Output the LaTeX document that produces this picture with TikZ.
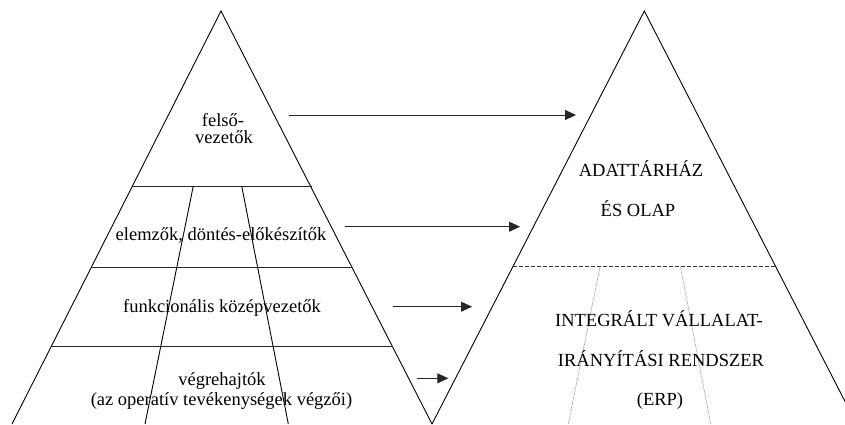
\documentclass[tikz,border=0pt]{standalone}
\usepackage{fontspec}
\setmainfont{Liberation Serif}
\usetikzlibrary{arrows.meta}
\begin{document}
\begin{tikzpicture}[x=1pt,y=-1pt,
  edge/.style={line width=0.9pt,black},
  rowline/.style={line width=0.9pt,black!85},
  sepline/.style={line width=0.8pt,dash pattern=on 4pt off 2pt,black!80},
  faint/.style={line width=0.6pt,black!40,dash pattern=on 1.5pt off 0.8pt},
  flow/.style={line width=0.9pt,black!85,-{Triangle[length=11pt,width=10pt]}},
  lbl/.style={inner sep=0pt,anchor=base,font=\fontsize{18.5}{20}\selectfont}]
\useasboundingbox (0,0) rectangle (845,424);
\clip (0,0) rectangle (845,424);

% left pyramid: organisational levels
\coordinate (lApex) at (221,11);
\coordinate (lBL) at (12,424);
\coordinate (lBR) at (432,424);
\draw[edge] (lBL) -- (lApex) -- (lBR);
\draw[rowline] (132.4,186) -- (312,186);
\draw[rowline] (91.4,267) -- (351.8,267);
\draw[rowline] (51.1,346.7) -- (392.5,346.7);
\draw[edge] (193.3,186) -- (145,424);
\draw[edge] (241.7,186) -- (288.3,424);

% right pyramid: information systems
\coordinate (rApex) at (644.3,11);
\coordinate (rBL) at (432,424);
\coordinate (rBR) at (856.6,424);
\draw[edge] (rBL) -- (rApex) -- (rBR);
\draw[sepline] (513,266.5) -- (775.6,266.5);
\draw[faint] (600,267) -- (568.3,424);
\draw[faint] (680.5,267) -- (710.7,424);

% labels, left
\node[lbl] (felso) at (223,126) {felső-};
\node[lbl] (vezetok) at (224,143.3) {vezetők};
\node[lbl] (elemzok) at (221,240.7) {elemzők, döntés-előkészítők};
\node[lbl] (funk) at (222,312.7) {funkcionális középvezetők};
\node[lbl] (vegre) at (222,385) {végrehajtók};
\node[lbl] (operativ) at (221.5,405) {(az operatív tevékenységek végzői)};

% labels, right
\node[lbl] (adat) at (641,176) {ADATTÁRHÁZ};
\node[lbl] (olap) at (638,216) {ÉS OLAP};
\node[lbl] (integ) at (659,326) {INTEGRÁLT VÁLLALAT-};
\node[lbl] (irany) at (661,366.7) {IRÁNYÍTÁSI RENDSZER};
\node[lbl] (erp) at (660,405) {(ERP)};

% arrows between the levels
\coordinate (a1s) at (289,115);   \coordinate (a1e) at (576,115);
\coordinate (a2s) at (345,226.7); \coordinate (a2e) at (520,226.7);
\coordinate (a3s) at (393,306.7); \coordinate (a3e) at (472,306.7);
\coordinate (a4s) at (416.7,378.3); \coordinate (a4e) at (448.3,378.3);
\draw[flow] (a1s) -- (a1e);
\draw[flow] (a2s) -- (a2e);
\draw[flow] (a3s) -- (a3e);
\draw[flow] (a4s) -- (a4e);
\end{tikzpicture}
\end{document}
